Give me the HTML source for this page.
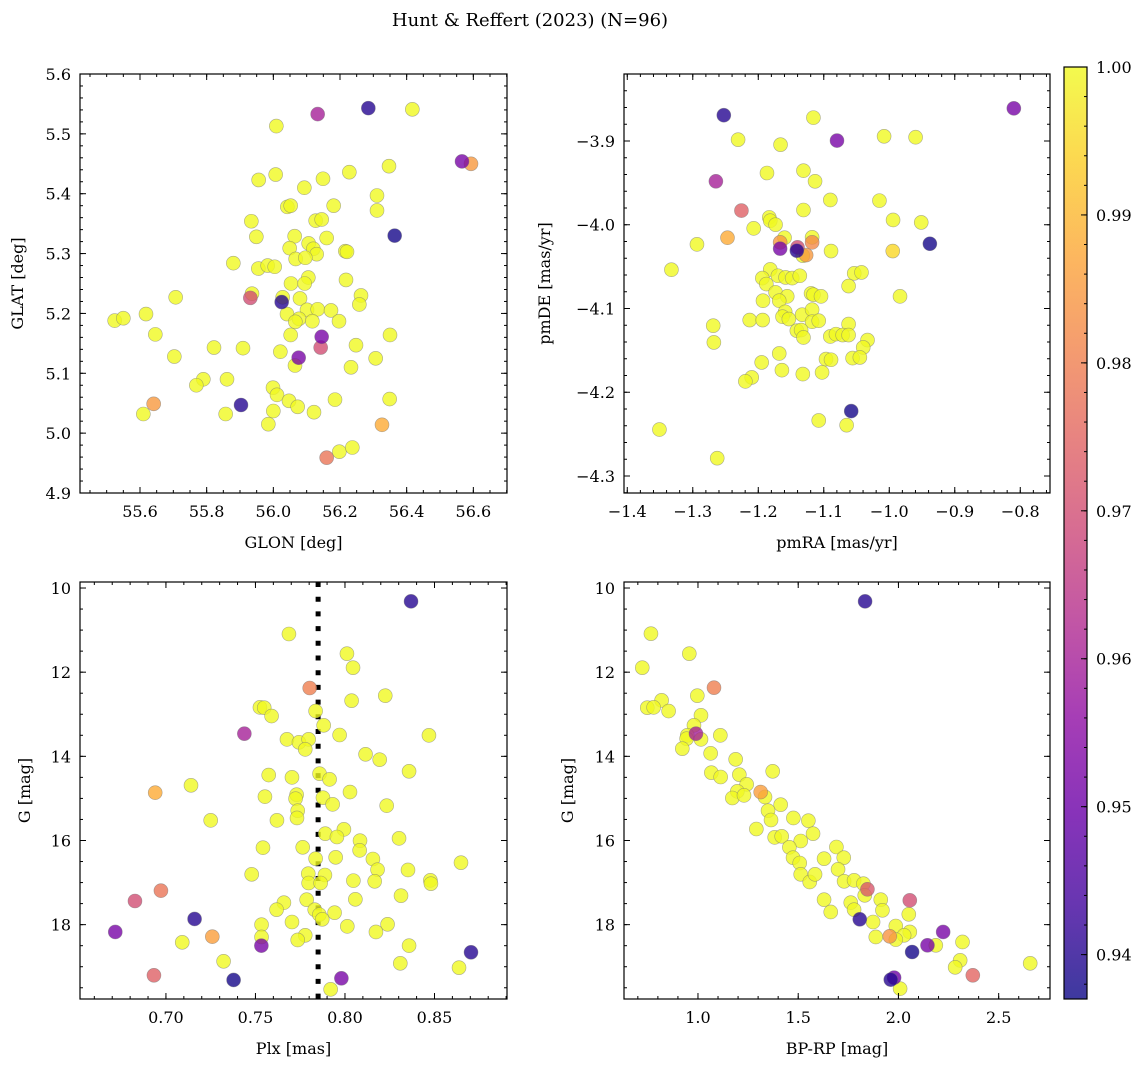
<!DOCTYPE html>
<html><head><meta charset="utf-8"><style>
body{margin:0;background:#fff;}
svg{display:block;font-family:"DejaVu Serif","Liberation Serif",serif;}
</style></head><body>
<svg id="fig" width="1148" height="1067" viewBox="0 0 1148 1067" xmlns="http://www.w3.org/2000/svg">
<text x="530" y="26" font-size="18" text-anchor="middle">Hunt &amp; Reffert (2023) (N=96)</text>
</svg>
<script>
// ---- data ----
const glon=[56.133,56.285,56.417,56.009,56.566,56.593,56.347,56.228,56.007,55.956,56.149,56.093,56.311,56.042,56.052,56.181,56.311,55.934,56.127,56.145,56.364,55.949,56.064,56.160,56.106,56.049,56.120,56.130,56.067,56.096,56.216,56.221,55.880,55.955,55.983,56.004,56.105,56.053,56.094,56.218,55.707,55.931,55.936,56.263,56.258,56.025,56.028,56.080,55.524,55.550,55.618,56.041,56.101,56.133,56.173,56.197,56.077,56.066,56.117,55.646,56.052,56.145,56.142,56.350,56.248,55.703,55.822,55.909,56.021,56.076,56.065,56.307,56.233,55.790,55.769,55.861,55.999,56.011,56.047,56.073,56.185,56.349,55.641,55.610,55.903,55.857,56.000,56.122,55.985,56.326,56.198,56.237,56.160];
const glat=[5.533,5.543,5.541,5.513,5.454,5.450,5.446,5.436,5.432,5.423,5.425,5.410,5.397,5.378,5.380,5.380,5.372,5.354,5.355,5.357,5.330,5.328,5.329,5.326,5.317,5.309,5.308,5.299,5.291,5.293,5.304,5.303,5.284,5.275,5.280,5.278,5.260,5.250,5.250,5.256,5.227,5.226,5.233,5.230,5.215,5.219,5.227,5.225,5.188,5.192,5.199,5.199,5.206,5.207,5.205,5.187,5.191,5.186,5.187,5.165,5.164,5.161,5.143,5.164,5.147,5.128,5.143,5.142,5.136,5.126,5.113,5.125,5.110,5.090,5.080,5.090,5.076,5.064,5.054,5.044,5.056,5.057,5.049,5.032,5.047,5.032,5.037,5.035,5.015,5.014,4.969,4.976,4.959];
const prob1=[0.960,0.940,1,1,0.952,0.985,1,1,1,1,1,1,1,1,1,1,1,1,1,1,0.938,1,1,1,1,1,1,1,1,1,1,1,1,1,1,1,1,1,1,1,1,0.970,1,1,1,0.940,1,1,1,1,1,1,1,1,1,1,1,1,1,1,1,0.952,0.970,1,1,1,1,1,1,0.952,1,1,1,1,1,1,1,1,1,1,1,1,0.985,1,0.940,1,1,1,1,0.988,1,1,0.978];

const pmra=[-1.2526,-1.1158,-0.8098,-1.2308,-1.1660,-1.0798,-1.0079,-0.9598,-1.1867,-1.1310,-1.1133,-1.2647,-1.0900,-1.0150,-1.1310,-1.2257,-1.1832,-1.1817,-1.1736,-1.2070,-0.9942,-0.9512,-1.2470,-1.2936,-1.1599,-1.1666,-1.1666,-1.1401,-1.1411,-1.1178,-1.1178,-1.1269,-1.1320,-1.0889,-0.9380,-0.9947,-1.3326,-1.1817,-1.1938,-1.1877,-1.1700,-1.1584,-1.1482,-1.1366,-1.0535,-1.0424,-1.0621,-0.9836,-1.1736,-1.1558,-1.1928,-1.1680,-1.1194,-1.1158,-1.1042,-1.1589,-1.1630,-1.1330,-1.1178,-1.2131,-1.1933,-1.1533,-1.1178,-1.1077,-1.2688,-1.0621,-1.1411,-1.1346,-1.1310,-1.0900,-1.0814,-1.0712,-1.0621,-1.0332,-1.0398,-1.2678,-1.1680,-1.1948,-1.0966,-1.0889,-1.0560,-1.0449,-1.1639,-1.1320,-1.1026,-1.2100,-1.2197,-1.0581,-1.1077,-1.0651,-1.3509,-1.2627];
const pmde=[-3.8692,-3.8721,-3.8610,-3.8984,-3.9044,-3.8995,-3.8944,-3.8955,-3.9382,-3.9354,-3.9481,-3.9481,-3.9704,-3.9712,-3.9824,-3.9831,-3.9912,-3.9952,-3.9999,-4.0043,-3.9943,-3.9972,-4.0155,-4.0234,-4.0155,-4.0210,-4.0285,-4.0270,-4.0310,-4.0150,-4.0210,-4.0362,-4.0369,-4.0314,-4.0227,-4.0314,-4.0537,-4.0533,-4.0637,-4.0708,-4.0609,-4.0629,-4.0637,-4.0609,-4.0580,-4.0569,-4.0732,-4.0855,-4.0808,-4.0855,-4.0907,-4.0907,-4.0820,-4.0835,-4.0855,-4.1039,-4.1098,-4.1074,-4.1014,-4.1138,-4.1138,-4.1126,-4.1158,-4.1146,-4.1205,-4.1186,-4.1265,-4.1257,-4.1346,-4.1334,-4.1306,-4.1317,-4.1317,-4.1377,-4.1465,-4.1405,-4.1537,-4.1644,-4.1604,-4.1612,-4.1592,-4.1584,-4.1736,-4.1783,-4.1763,-4.1823,-4.1870,-4.2225,-4.2337,-4.2393,-4.2445,-4.2787];
const prob2=[0.940,1,0.952,1,1,0.952,1,1,1,1,1,0.960,1,1,1,0.974,1,1,1,1,1,1,0.988,1,1,0.985,0.952,0.970,0.940,1,0.982,0.985,1,1,0.938,0.995,1,1,1,1,1,1,1,1,1,1,1,1,1,1,1,1,1,1,1,1,1,1,1,1,1,1,1,1,1,1,1,1,1,1,1,1,1,1,1,1,1,1,1,1,1,1,1,1,1,1,1,0.938,1,1,1,1];

const plx=[0.8369,0.7687,0.8011,0.8045,0.7803,0.8225,0.8037,0.7525,0.7549,0.7590,0.7836,0.7881,0.7438,0.7970,0.8469,0.7676,0.7743,0.7797,0.7778,0.8115,0.8194,0.8358,0.7574,0.7704,0.7858,0.7914,0.7140,0.6940,0.7553,0.7730,0.7724,0.7877,0.8028,0.7931,0.8233,0.7736,0.7732,0.7250,0.7620,0.7890,0.7994,0.7955,0.8084,0.8082,0.8302,0.7542,0.7764,0.7836,0.7948,0.8156,0.8182,0.8352,0.8648,0.7479,0.7795,0.7888,0.7797,0.7864,0.8047,0.8166,0.8477,0.8480,0.6972,0.6827,0.8313,0.8058,0.7786,0.7659,0.7618,0.7831,0.7857,0.7942,0.7873,0.7160,0.6717,0.7534,0.7704,0.8013,0.8238,0.8173,0.7259,0.7534,0.7778,0.7736,0.7091,0.7533,0.8358,0.8704,0.7322,0.8309,0.8637,0.6933,0.7378,0.7980,0.7920];
const gmag3=[10.317,11.093,11.560,11.893,12.376,12.558,12.677,12.836,12.844,13.042,12.923,13.263,13.461,13.493,13.501,13.596,13.667,13.596,13.834,13.952,14.079,14.356,14.444,14.499,14.412,14.547,14.689,14.863,14.958,14.911,15.006,14.982,14.848,15.141,15.172,15.291,15.465,15.521,15.521,15.838,15.735,15.917,16.004,16.234,15.949,16.170,16.162,16.432,16.400,16.440,16.693,16.701,16.527,16.804,16.788,16.820,17.010,17.010,16.954,16.970,16.947,17.026,17.192,17.438,17.311,17.398,17.406,17.477,17.644,17.644,17.762,17.715,17.873,17.865,18.174,18.000,17.937,18.040,17.992,18.174,18.285,18.293,18.253,18.364,18.420,18.499,18.499,18.657,18.871,18.919,19.022,19.204,19.315,19.275,19.537];
const prob3=[0.940,1,1,1,0.980,1,1,1,1,1,1,1,0.960,1,1,1,1,1,1,1,1,1,1,1,1,1,1,0.988,1,1,1,1,1,1,1,1,1,1,1,1,1,1,1,1,1,1,1,1,1,1,1,1,1,1,1,1,1,1,1,1,1,1,0.978,0.970,1,1,1,1,1,1,1,1,1,0.940,0.952,1,1,1,1,1,0.986,1,1,1,1,0.952,1,0.940,1,1,1,0.974,0.938,0.952,1];

const bprp=[1.8336,0.7654,0.9567,0.7221,1.0799,0.9967,0.8186,0.7471,0.7787,0.8536,1.0150,0.9800,0.9468,0.9900,1.1115,0.9434,1.0150,0.9218,1.0632,1.1880,1.0666,1.1131,1.2063,1.3727,1.2429,1.3128,1.1963,1.1714,1.2296,1.3344,1.4126,1.3494,1.3644,1.4759,1.5507,1.2912,1.3827,1.4176,1.5125,1.5740,1.4559,1.4742,1.5075,1.5125,1.5574,1.5840,1.6290,1.6905,1.7271,1.6988,1.7288,1.7787,1.8253,1.8453,1.8319,1.6290,1.6622,1.7621,1.7787,1.9118,1.9201,1.8735,1.8070,2.0566,2.0516,1.9867,2.0566,2.0283,1.8869,1.9567,1.9867,2.2230,2.1448,2.1864,2.0682,2.3195,2.3078,2.2829,2.3710,2.6572,1.9784,1.9617,2.0083];
const gmag4=[10.317,11.085,11.560,11.893,12.368,12.558,12.669,12.844,12.836,12.923,13.026,13.263,13.501,13.461,13.501,13.580,13.596,13.818,13.929,14.071,14.388,14.491,14.436,14.356,14.665,14.848,14.832,14.990,14.927,14.966,15.149,15.291,15.513,15.465,15.529,15.727,15.925,15.901,16.012,15.838,16.162,16.408,16.535,16.804,16.986,16.804,16.432,16.155,16.408,16.685,16.970,16.947,17.026,17.160,17.303,17.406,17.699,17.477,17.644,17.406,17.659,17.937,17.873,17.422,17.754,18.032,18.174,18.253,18.293,18.277,18.356,18.174,18.491,18.491,18.650,18.412,18.848,19.014,19.204,18.919,19.259,19.307,19.521];
const prob4=[0.940,1,1,1,0.980,1,1,1,1,1,1,1,1,0.960,1,1,1,1,1,1,1,1,1,1,1,0.986,1,1,1,1,1,1,1,1,1,1,1,1,1,1,1,1,1,1,1,1,1,1,1,1,1,1,1,0.972,1,1,1,1,1,1,1,1,0.940,0.970,1,1,1,1,1,0.984,1,0.952,0.952,1,0.938,1,1,1,0.975,1,0.950,0.940,1];

const cbTicks=[0.94,0.95,0.96,0.97,0.98,0.99,1.00];
const plxRef=0.785;

// ---- helpers ----
const NS='http://www.w3.org/2000/svg';
const svg=document.getElementById('fig');
function mk(tag,attrs,parent){const e=document.createElementNS(NS,tag);for(const k in attrs)e.setAttribute(k,attrs[k]);(parent||svg).appendChild(e);return e;}
const stops=[[13,8,135],[65,4,157],[106,0,168],[143,13,164],[177,42,144],[204,71,120],[225,100,98],[242,132,75],[252,166,54],[252,206,37],[240,249,33]];
const VMIN=0.937,VMAX=1.0;
function plasma(v){let t=(v-VMIN)/(VMAX-VMIN);t=Math.max(0,Math.min(1,t));const f=t*10,i=Math.min(9,Math.floor(f)),r=f-i;const a=stops[i],b=stops[i+1];return 'rgb('+a.map((c,k)=>Math.round(c+(b[k]-c)*r)).join(',')+')';}
function fmt(v,d){const s=Math.abs(v).toFixed(d);return (v<-1e-9?'\u2212':'')+s;}

function panel(cfg){
  const [L,T,R,B]=cfg.box;
  const sx=v=>L+(v-cfg.xlim[0])/(cfg.xlim[1]-cfg.xlim[0])*(R-L);
  const sy=cfg.inv?(v=>T+(v-cfg.ylim[0])/(cfg.ylim[1]-cfg.ylim[0])*(B-T)):(v=>B-(v-cfg.ylim[0])/(cfg.ylim[1]-cfg.ylim[0])*(B-T));
  const g=mk('g',{});
  
  
  const clipId='clip-'+cfg.name;
  const cp=mk('clipPath',{id:clipId},g);mk('rect',{x:L,y:T,width:R-L,height:B-T},cp);
  if(cfg.vline!==undefined){const l=mk('line',{x1:sx(cfg.vline),x2:sx(cfg.vline),y1:T,y2:B,stroke:'#000','stroke-width':5,'stroke-dasharray':'5 9.7'},g);
    
    }
  const pts=mk('g',{'clip-path':'url(#'+clipId+')'},g);
  
  
  const idx=cfg.x.map((_,i)=>i).sort((a,b)=>cfg.c[b]-cfg.c[a]);
  idx.forEach(i=>{const c=mk('circle',{cx:sx(cfg.x[i]),cy:sy(cfg.y[i]),r:7,fill:plasma(cfg.c[i]),'fill-opacity':0.8,stroke:'#777','stroke-opacity':0.6,'stroke-width':0.6},pts);
    
    });
  const tk=mk('g',{stroke:'#000','stroke-width':1},g);
  
  
  const eps=1e-9;
  function range(a,b,s){const o=[];const n0=Math.ceil((a-eps)/s),n1=Math.floor((b+eps)/s);for(let n=n0;n<=n1;n++)o.push(n*s);return o;}
  range(cfg.xlim[0],cfg.xlim[1],cfg.xminor).forEach(v=>{const x=sx(v);mk('line',{x1:x,x2:x,y1:B,y2:B-3},tk);mk('line',{x1:x,x2:x,y1:T,y2:T+3},tk);});
  range(Math.min(...cfg.ylim),Math.max(...cfg.ylim),cfg.yminor).forEach(v=>{const y=sy(v);mk('line',{x1:L,x2:L+3,y1:y,y2:y},tk);mk('line',{x1:R,x2:R-3,y1:y,y2:y},tk);});
  cfg.xt.forEach(v=>{const x=sx(v);mk('line',{x1:x,x2:x,y1:B,y2:B-6},tk);mk('line',{x1:x,x2:x,y1:T,y2:T+6},tk);
    const t=mk('text',{x:x,y:B+24,'font-size':16,'text-anchor':'middle'},g);t.textContent=fmt(v,cfg.xd);
    
    });
  cfg.yt.forEach(v=>{const y=sy(v);mk('line',{x1:L,x2:L+6,y1:y,y2:y},tk);mk('line',{x1:R,x2:R-6,y1:y,y2:y},tk);
    const t=mk('text',{x:L-9,y:y+6,'font-size':16,'text-anchor':'end'},g);t.textContent=fmt(v,cfg.yd);
    
    });
  mk('rect',{x:L,y:T,width:R-L,height:B-T,fill:'none',stroke:'#000','stroke-width':1.2},g);
  const xl=mk('text',{x:(L+R)/2,y:B+55,'font-size':16,'text-anchor':'middle'},g);xl.textContent=cfg.xlabel;
  
  
  const yl=mk('text',{x:cfg.ylx,y:(T+B)/2,'font-size':16,'text-anchor':'middle',transform:'rotate(-90 '+cfg.ylx+' '+((T+B)/2)+')'},g);yl.textContent=cfg.ylabel;
  
  
}

panel({name:'glon-glat-panel',box:[80,74,507,493],xlim:[55.42,56.701],ylim:[4.9,5.6],x:glon,y:glat,c:prob1,
  xt:[55.6,55.8,56.0,56.2,56.4,56.6],xd:1,xminor:0.05,yt:[4.9,5.0,5.1,5.2,5.3,5.4,5.5,5.6],yd:1,yminor:0.02,xlabel:'GLON [deg]',ylabel:'GLAT [deg]',ylx:23});
panel({name:'proper-motion-panel',box:[624,74,1050,493],xlim:[-1.405,-0.7546],ylim:[-4.3203,-3.82],x:pmra,y:pmde,c:prob2,
  xt:[-1.4,-1.3,-1.2,-1.1,-1.0,-0.9,-0.8],xd:1,xminor:0.02,yt:[-4.3,-4.2,-4.1,-4.0,-3.9],yd:1,yminor:0.02,xlabel:'pmRA [mas/yr]',ylabel:'pmDE [mas/yr]',ylx:550});
panel({name:'parallax-mag-panel',box:[80,582,507,999],xlim:[0.652,0.8905],ylim:[9.857,19.767],inv:true,x:plx,y:gmag3,c:prob3,vline:plxRef,
  xt:[0.70,0.75,0.80,0.85],xd:2,xminor:0.01,yt:[10,12,14,16,18],yd:0,yminor:0.5,xlabel:'Plx [mas]',ylabel:'G [mag]',ylx:30});
panel({name:'cmd-panel',box:[624,582,1050,999],xlim:[0.631,2.756],ylim:[9.857,19.767],inv:true,x:bprp,y:gmag4,c:prob4,
  xt:[1.0,1.5,2.0,2.5],xd:1,xminor:0.1,yt:[10,12,14,16,18],yd:0,yminor:0.5,xlabel:'BP-RP [mag]',ylabel:'G [mag]',ylx:573});

// ---- colorbar ----
(function(){
  const L=1064,R=1087,T=67,B=999;
  const cy=v=>B-(v-VMIN)/(VMAX-VMIN)*(B-T);
  const g=mk('g',{});
  
  
  const defs=mk('defs',{},g);
  const lg=mk('linearGradient',{id:'plasmaGrad',x1:0,y1:1,x2:0,y2:0},defs);
  stops.forEach((s,i)=>mk('stop',{offset:(i/10),'stop-color':'rgb('+s.join(',')+')'},lg));
  mk('rect',{x:L,y:T,width:R-L,height:B-T,fill:'url(#plasmaGrad)','fill-opacity':0.8},g);
  for(let v=0.938;v<=1.0001;v+=0.002){const y=cy(v);mk('line',{x1:R,x2:R-3,y1:y,y2:y,stroke:'#000'},g);}
  cbTicks.forEach(v=>{const y=cy(v);mk('line',{x1:R,x2:R-6,y1:y,y2:y,stroke:'#000'},g);
    const t=mk('text',{x:R+9,y:y+6,'font-size':16},g);t.textContent=v.toFixed(2);
    
    });
  mk('rect',{x:L,y:T,width:R-L,height:B-T,fill:'none',stroke:'#000','stroke-width':1.2},g);
})();
</script>
</body></html>
